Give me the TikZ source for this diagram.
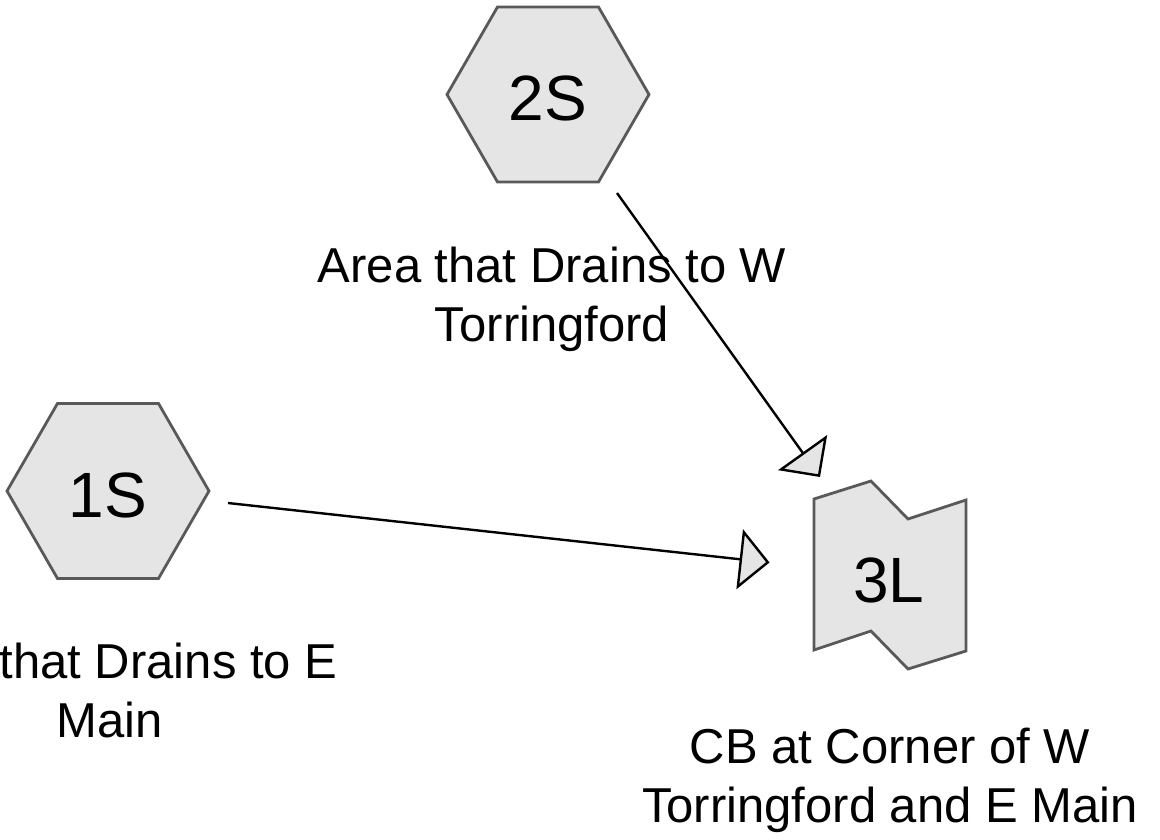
\documentclass[tikz,border=0pt]{standalone}
\usepackage{fontspec}
\setmainfont{Liberation Sans}
\usetikzlibrary{arrows.meta}
\definecolor{shapefill}{HTML}{E5E5E5}
\definecolor{shapeline}{HTML}{595959}
\begin{document}
\begin{tikzpicture}[x=1pt,y=-1pt,
  shapeborder/.style={draw=shapeline, fill=shapefill, line width=2.8pt, line join=miter},
  idtext/.style={anchor=base, inner sep=0pt, font=\fontsize{64}{77}\selectfont},
  lbl/.style={align=center, anchor=base, inner sep=0pt, font=\fontsize{49}{59}\selectfont},
  flow/.style={draw=black, line width=2.4pt, -{Triangle[length=30pt,width=60pt,fill=shapefill]}}
]
\useasboundingbox (0,0) rectangle (1160,840);
% hexagon 2S
\draw[shapeborder, shift={(548,94.5)}] (-101,0) -- (-50.5,-87.5) -- (50.5,-87.5) -- (101,0) -- (50.5,87.5) -- (-50.5,87.5) -- cycle;
\node[idtext] (s2) at (548,121) {2S};
% hexagon 1S
\draw[shapeborder, shift={(108,491)}] (-101,0) -- (-50.5,-87.5) -- (50.5,-87.5) -- (101,0) -- (50.5,87.5) -- (-50.5,87.5) -- cycle;
\node[idtext] (s1) at (108,517) {1S};
% 3L
\draw[shapeborder] (814,499) -- (871,481) -- (908,519) -- (966,500) -- (966,651) -- (908,669) -- (871,631) -- (814,650) -- cycle;
\node[idtext] (l3) at (889,602) {3L};
% labels (base anchor = last line baseline)
\node[lbl] (t2) at (552,341) {Area that Drains to W\\Torringford};
\node[lbl] (t1) at (110,737) {Area that Drains to E\\Main};
\node[lbl] (t3) at (890,822) {CB at Corner of W\\Torringford and E Main};
% connectors
\coordinate (a1s) at (228,503);
\coordinate (a1e) at (769.5,562.5);
\coordinate (a2s) at (617,193);
\coordinate (a2e) at (820,477);
\draw[flow] (a1s) -- (a1e);
\draw[flow] (a2s) -- (a2e);
\end{tikzpicture}
\end{document}
